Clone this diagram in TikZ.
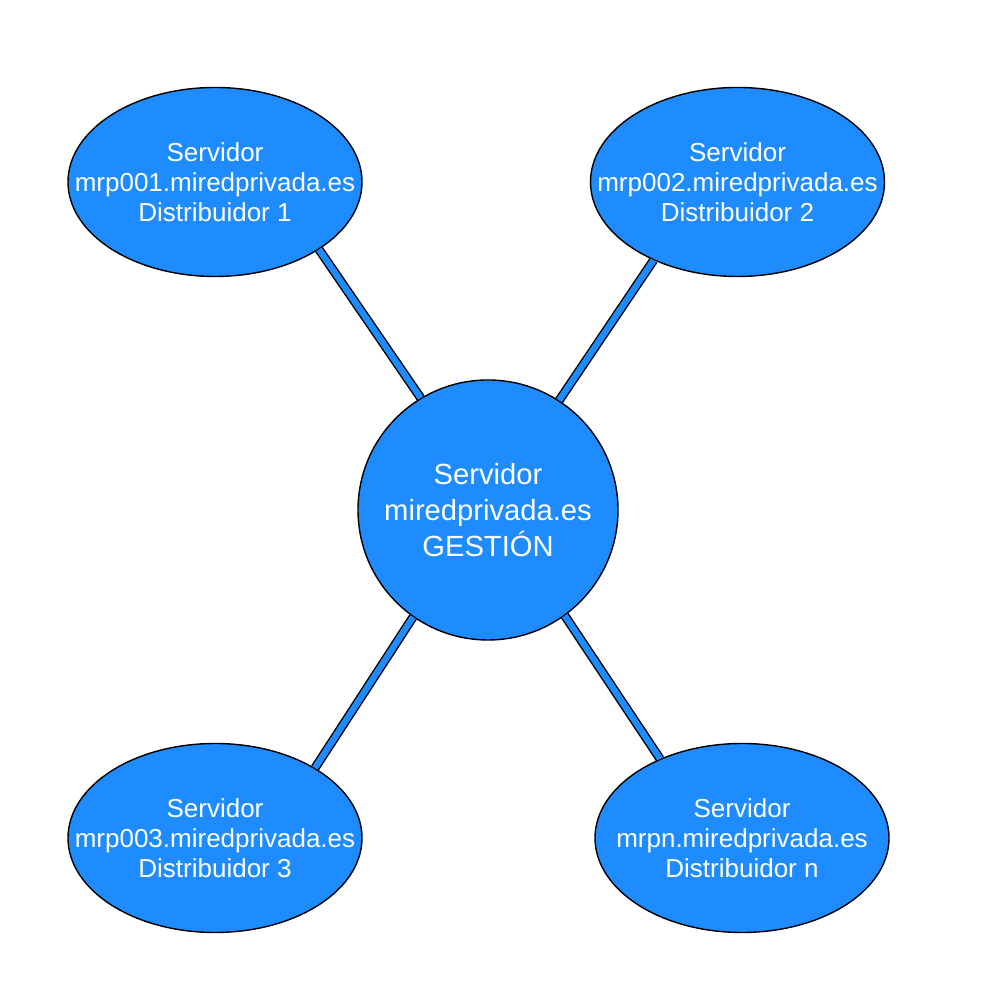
\documentclass[tikz,border=0pt]{standalone}
\usepackage{fontspec}
\setmainfont{Liberation Sans}
\usepackage{xcolor}
\usepackage{tikz}
\usetikzlibrary{shapes.geometric}
\definecolor{srvblue}{HTML}{1E8CFF}

\begin{document}
\begin{tikzpicture}[x=1cm, y=1cm,
  srv/.style={ellipse, draw=black, line width=0.4pt, fill=srvblue,
    inner xsep=-0.45cm, inner ysep=0pt,
    minimum width=2.94cm, minimum height=1.89cm, align=center, text=white,
    font=\fontsize{7.4}{8.5}\selectfont},
  hub/.style={circle, draw=black, line width=0.4pt, fill=srvblue, inner sep=0pt,
    minimum size=2.6cm, align=center, text=white,
    font=\fontsize{8.3}{10.2}\selectfont},
  enlace/.style={draw=black, line width=0.4pt, double=srvblue, double distance=1.8pt}]
\useasboundingbox (0,0) rectangle (10,10);
\node[hub] (gest) at (4.88,4.90) {Servidor\\miredprivada.es\\GESTIÓN};
\node[srv] (d1) at (2.15,8.18) {Servidor\\mrp001.miredprivada.es\\Distribuidor 1};
\node[srv] (d2) at (7.375,8.18) {Servidor\\mrp002.miredprivada.es\\Distribuidor 2};
\node[srv] (d3) at (2.15,1.62) {Servidor\\mrp003.miredprivada.es\\Distribuidor 3};
\node[srv] (dn) at (7.42,1.62) {Servidor\\mrpn.miredprivada.es\\Distribuidor n};
\draw[enlace] (d1.-33.7) -- (gest.121.7);
\draw[enlace] (d2.-137.5) -- (gest.57.9);
\draw[enlace] (d3.35.8) -- (gest.235.2);
\draw[enlace] (dn.136.4) -- (gest.-54.3);
\end{tikzpicture}
\end{document}
